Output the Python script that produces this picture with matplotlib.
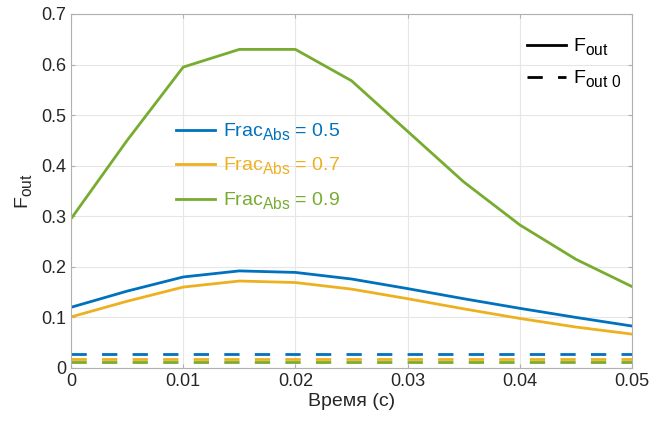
import matplotlib
matplotlib.use("Agg")
import matplotlib.pyplot as plt
from matplotlib.lines import Line2D
try:
    import matplotlib._mathtext as _mt
    _mt.SHRINK_FACTOR = 0.8
    for _cls in [_mt.FontConstantsBase] + list(_mt.FontConstantsBase.__subclasses__()):
        _cls.sub1 = 0.42
        _cls.sub2 = 0.45
except Exception:
    pass

plt.rcParams['font.family'] = ['Liberation Sans', 'DejaVu Sans']
plt.rcParams['mathtext.default'] = 'regular'

t = [0, 0.005, 0.01, 0.015, 0.02, 0.025, 0.03, 0.035, 0.04, 0.045, 0.05]
f05 = [0.120, 0.152, 0.180, 0.192, 0.189, 0.176, 0.157, 0.137, 0.118, 0.100, 0.083]
f07 = [0.101, 0.132, 0.160, 0.172, 0.169, 0.156, 0.137, 0.117, 0.098, 0.081, 0.067]
f09 = [0.295, 0.450, 0.595, 0.630, 0.630, 0.568, 0.468, 0.368, 0.283, 0.215, 0.161]
f0_05 = [0.027] * len(t)
f0_07 = [0.018] * len(t)
f0_09 = [0.011] * len(t)
labels = ['0.5', '0.7', '0.9']
colors = ['#0072BD', '#EDB120', '#77AC30']

fig = plt.figure(figsize=(6.51, 4.28), dpi=100)
ax = fig.add_axes([71/651, 1-368/428, 561/651, 354/428])

dash = (0, (5.5, 5.5))
handles = []
for y, y0, c, l in zip([f05, f07, f09], [f0_05, f0_07, f0_09], colors, labels):
    h, = ax.plot(t, y, color=c, lw=2, label='Frac$_{Abs}$ = ' + l)
    ax.plot(t, y0, color=c, lw=2, ls=dash)
    handles.append(h)

ax.set_xlim(0, 0.05)
ax.set_ylim(0, 0.7)
ax.set_xticks([0, 0.01, 0.02, 0.03, 0.04, 0.05])
ax.set_xticklabels(['0', '0.01', '0.02', '0.03', '0.04', '0.05'])
ax.set_yticks([0, 0.1, 0.2, 0.3, 0.4, 0.5, 0.6, 0.7])
ax.set_yticklabels(['0', '0.1', '0.2', '0.3', '0.4', '0.5', '0.6', '0.7'])
ax.grid(True, color='#e6e6e6', lw=0.8)
ax.set_axisbelow(True)
for s in ax.spines.values():
    s.set_color('#b0b0b0')
ax.tick_params(direction='in', length=3, colors='#b0b0b0', labelcolor='#262626', labelsize=13,
               top=True, right=True)
ax.set_xlabel('Время (с)', fontsize=14, color='#262626', labelpad=2)
ax.set_ylabel('F$_{out}$', fontsize=14, color='#262626')

leg1 = ax.legend(handles=handles, loc='upper left', bbox_to_anchor=(0.156, 0.745), frameon=False,
                 fontsize=14, handlelength=2.0, handletextpad=0.4, labelspacing=0.68)
for txt, c in zip(leg1.get_texts(), colors):
    txt.set_color(c)
ax.add_artist(leg1)

h2 = [Line2D([], [], color='black', lw=2), Line2D([], [], color='black', lw=2, ls=dash)]
ax.legend(h2, ['F$_{out}$', 'F$_{out\\ 0}$'], loc='upper right', bbox_to_anchor=(1.014, 0.985), frameon=False,
          fontsize=14, handlelength=2.0, handletextpad=0.4, labelspacing=0.55)

fig.savefig('out.png', dpi=100)
